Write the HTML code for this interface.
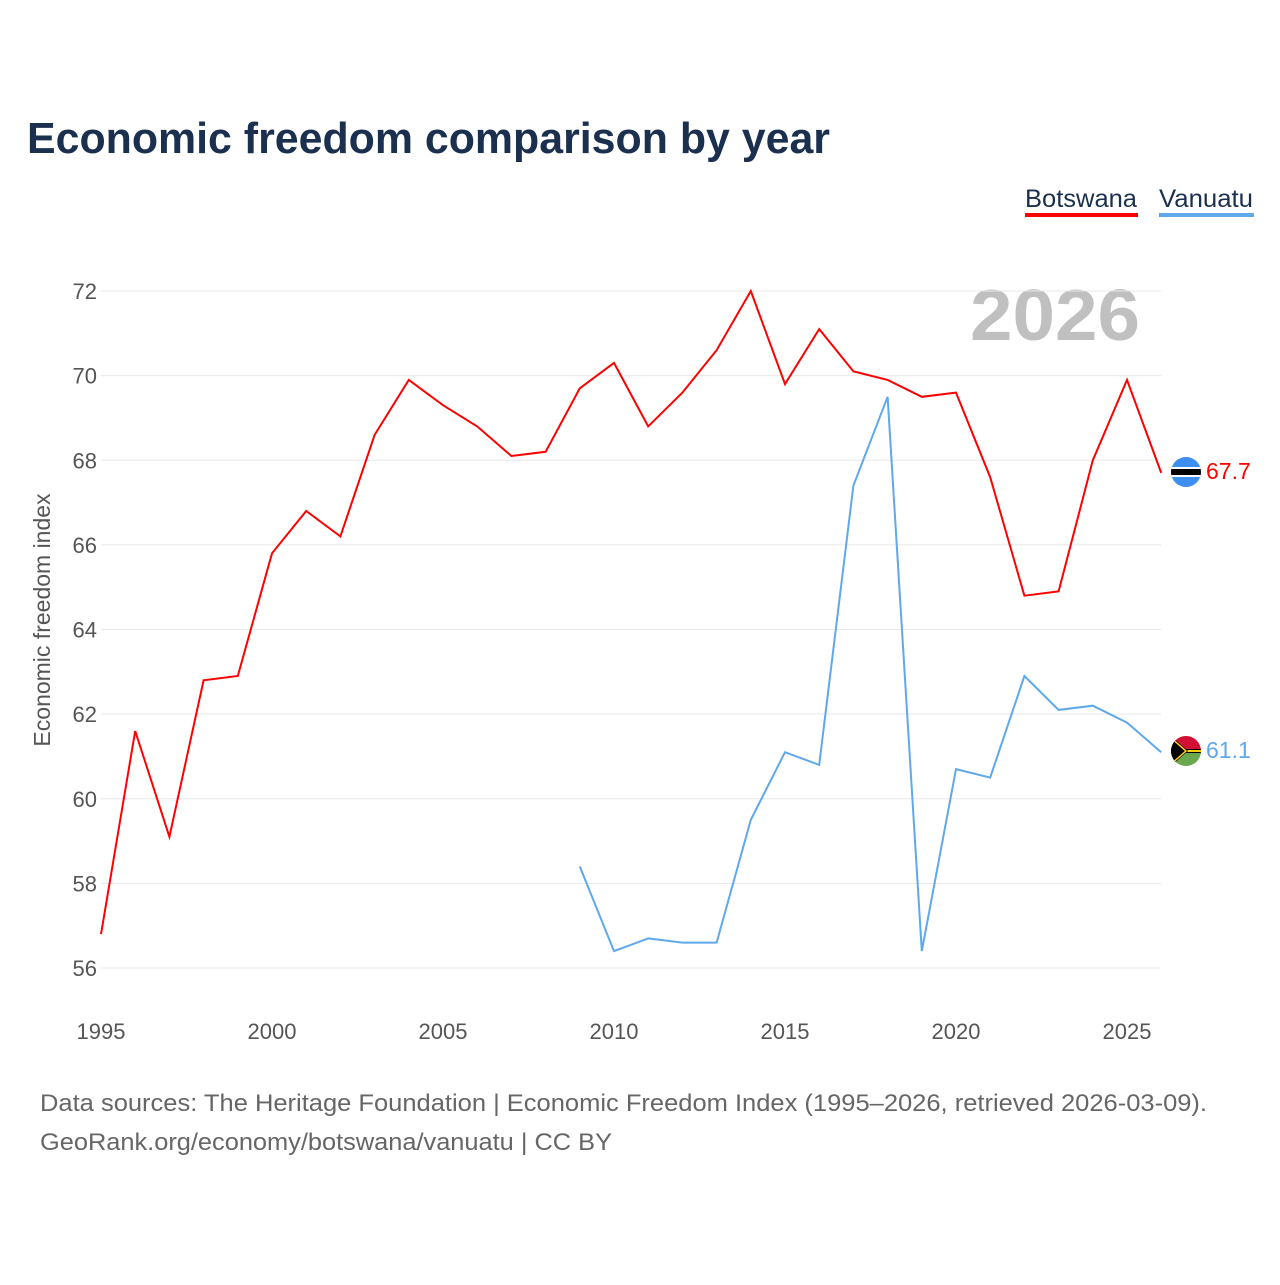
<!DOCTYPE html>
<html><head><meta charset="utf-8"><style>
body{margin:0;background:#fff;font-family:"Liberation Sans",sans-serif;}
</style></head><body>
<svg id="chart" width="1280" height="1280" xmlns="http://www.w3.org/2000/svg" style="font-family:'Liberation Sans',sans-serif">
<text x="27" y="153" font-size="44" font-weight="bold" fill="#1b2f4e" textLength="803" lengthAdjust="spacingAndGlyphs">Economic freedom comparison by year</text>
<g>
<text x="1025" y="207" font-size="25" fill="#1b2f4e" textLength="112" lengthAdjust="spacingAndGlyphs">Botswana</text>
<rect x="1025" y="213" width="113" height="4" fill="#ff0000"/>
<text x="1159" y="207" font-size="25" fill="#1b2f4e" textLength="94" lengthAdjust="spacingAndGlyphs">Vanuatu</text>
<rect x="1159" y="213" width="95" height="4" fill="#5fa8ec"/>
</g>
<text x="970" y="340" font-size="72" font-weight="bold" fill="#c0c0c0" textLength="170" lengthAdjust="spacingAndGlyphs">2026</text>
<g id="grid"></g><g id="yt"></g><g id="xt"></g><g id="lines"></g>
<text transform="translate(50,620) rotate(-90)" font-size="23" fill="#555" text-anchor="middle">Economic freedom index</text>
<g>
<clipPath id="cb"><circle cx="1186" cy="472" r="15"/></clipPath>
<g clip-path="url(#cb)"><rect x="1170" y="456" width="32" height="32" fill="#3d8ff0"/><rect x="1170" y="467" width="32" height="10" fill="#fff"/><rect x="1170" y="469" width="32" height="6" fill="#000"/></g></g>
<g>
<clipPath id="cv"><circle cx="1186" cy="751" r="15"/></clipPath>
<g clip-path="url(#cv)"><rect x="1170" y="735" width="32" height="16" fill="#d21034"/><rect x="1170" y="751" width="32" height="16" fill="#6aa84f"/><rect x="1170" y="749" width="32" height="4" fill="#000"/><rect x="1170" y="750" width="32" height="2" fill="#fdce12"/><polygon points="1170,735 1188,751 1170,767" fill="#000"/><polyline points="1170,737 1186,751 1170,765" fill="none" stroke="#fdce12" stroke-width="1.5"/></g></g>
<text x="1206" y="479" font-size="23" fill="#ff0000">67.7</text>
<text x="1206" y="758" font-size="23" fill="#5fa8ec">61.1</text>
<text x="40" y="1111" font-size="24" fill="#666" textLength="1167" lengthAdjust="spacingAndGlyphs">Data sources: The Heritage Foundation | Economic Freedom Index (1995–2026, retrieved 2026-03-09).</text>
<text x="40" y="1150" font-size="24" fill="#666" textLength="572" lengthAdjust="spacingAndGlyphs">GeoRank.org/economy/botswana/vanuatu | CC BY</text>
</svg>
<script>
const years=[1995,1996,1997,1998,1999,2000,2001,2002,2003,2004,2005,2006,2007,2008,2009,2010,2011,2012,2013,2014,2015,2016,2017,2018,2019,2020,2021,2022,2023,2024,2025,2026];
const botswana=[56.8,61.6,59.1,62.8,62.9,65.8,66.8,66.2,68.6,69.9,69.3,68.8,68.1,68.2,69.7,70.3,68.8,69.6,70.6,72.0,69.8,71.1,70.1,69.9,69.5,69.6,67.6,64.8,64.9,68.0,69.9,67.7];
const vanuatu=[null,null,null,null,null,null,null,null,null,null,null,null,null,null,58.4,56.4,56.7,56.6,56.6,59.5,61.1,60.8,67.4,69.5,56.4,60.7,60.5,62.9,62.1,62.2,61.8,61.1];
const yTicks=[56,58,60,62,64,66,68,70,72];
const xTicks=[1995,2000,2005,2010,2015,2020,2025];
const NS="http://www.w3.org/2000/svg";
const x=v=>101+(v-1995)*(1127-101)/30;
const y=v=>291+(72-v)*(968-291)/16;
function mk(t,a,p){const e=document.createElementNS(NS,t);for(const k in a)e.setAttribute(k,a[k]);document.getElementById(p).appendChild(e);return e;}
yTicks.forEach(t=>{
 const g=mk('line',{x1:101,x2:1161,y1:y(t),y2:y(t),stroke:'#e8e8e8','stroke-width':1},'grid');
 
 
 const l=mk('text',{x:97,y:y(t)+8,'font-size':22,fill:'#555','text-anchor':'end'},'yt');
 l.textContent=t;
 
 
});
xTicks.forEach(t=>{
 const l=mk('text',{x:x(t),y:1039,'font-size':22,fill:'#555','text-anchor':'middle'},'xt');
 l.textContent=t;
 
 
});
function path(vals){let d='',pen=false;vals.forEach((v,i)=>{if(v==null){pen=false;return;}d+=(pen?'L':'M')+x(years[i]).toFixed(1)+','+y(v).toFixed(1);pen=true;});return d;}
const pb=mk('path',{d:path(botswana),fill:'none',stroke:'#ff0000','stroke-width':2},'lines');


const pv=mk('path',{d:path(vanuatu),fill:'none',stroke:'#5fa8ec','stroke-width':2},'lines');


</script>
</body></html>
